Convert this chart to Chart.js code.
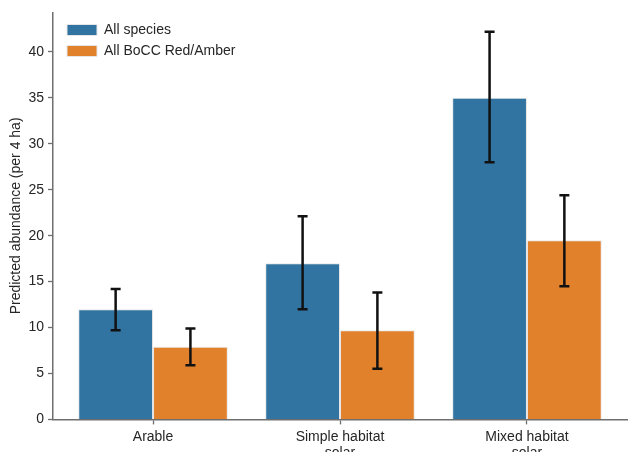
<!DOCTYPE html>
<html>
<head>
<meta charset="utf-8">
<script src="https://cdn.jsdelivr.net/npm/chart.js@4/dist/chart.umd.min.js"></script>
<style>
  html, body { margin: 0; padding: 0; background: #fff; overflow: hidden; }
  #wrap { width: 628px; height: 466px; position: relative; }
</style>
</head>
<body>
<div id="wrap"><canvas id="chart"></canvas></div>
<script>
// categories and values
var categories = [['Arable'], ['Simple habitat', 'solar'], ['Mixed habitat', 'solar']];
var seriesNames = ['All species', 'All BoCC Red/Amber'];
var allSpecies = [12.0, 17.0, 35.0];
var allSpeciesLow = [9.7, 12.0, 28.0];
var allSpeciesHigh = [14.2, 22.1, 42.2];
var redAmber = [7.9, 9.7, 19.5];
var redAmberLow = [5.9, 5.5, 14.5];
var redAmberHigh = [9.9, 13.8, 24.4];
var yTicks = [0, 5, 10, 15, 20, 25, 30, 35, 40];

var axisColor = '#6e6e6e';
var textColor = '#262626';
var font = "'Liberation Sans', Arial, sans-serif";

function points(values) {
    return values.map(function(v, i) { return { x: i, y: v }; });
}

// draws the black error bars over each bar
var errorBars = {
    id: 'errorBars',
    afterDatasetsDraw: function(chart) {
        var ctx = chart.ctx;
        var y = chart.scales.y;
        chart.data.datasets.forEach(function(ds, di) {
            var meta = chart.getDatasetMeta(di);
            meta.data.forEach(function(bar, i) {
                var top = y.getPixelForValue(ds.errHigh[i]);
                var bottom = y.getPixelForValue(ds.errLow[i]);
                ctx.save();
                ctx.strokeStyle = '#111';
                ctx.lineWidth = 2.5;
                ctx.beginPath();
                ctx.moveTo(bar.x, top);
                ctx.lineTo(bar.x, bottom);
                ctx.moveTo(bar.x - 5, top);
                ctx.lineTo(bar.x + 5, top);
                ctx.moveTo(bar.x - 5, bottom);
                ctx.lineTo(bar.x + 5, bottom);
                ctx.stroke();
                ctx.restore();
            });
        });
    }
};

// nudge the legend into the upper left of the plot, like the original
var legendShift = {
    id: 'legendShift',
    afterLayout: function(chart) {
        chart.legend.left += 7;
        chart.legend.top += 16;
    }
};

var ctx = document.getElementById('chart').getContext('2d');
var chart = new Chart(ctx, {
    type: 'bar',
    data: {
        datasets: [{
            label: seriesNames[0],
            data: points(allSpecies),
            errLow: allSpeciesLow,
            errHigh: allSpeciesHigh,
            backgroundColor: '#3274a1',
            borderColor: '#e6e6e6',
            borderWidth: 1,
            categoryPercentage: 0.8,
            barPercentage: 1
        }, {
            label: seriesNames[1],
            data: points(redAmber),
            errLow: redAmberLow,
            errHigh: redAmberHigh,
            backgroundColor: '#e1812c',
            borderColor: '#e6e6e6',
            borderWidth: 1,
            categoryPercentage: 0.8,
            barPercentage: 1
        }]
    },
    options: {
        responsive: true,
        maintainAspectRatio: false,
        animation: false,
        layout: { padding: { top: 10, right: 1, left: 0, bottom: 0 } },
        scales: {
            x: {
                type: 'linear',
                offset: false,
                min: -0.535,
                max: 2.535,
                afterBuildTicks: function(scale) {
                    scale.ticks = categories.map(function(c, i) { return { value: i }; });
                },
                grid: { display: true, offset: false, drawOnChartArea: false, color: axisColor, tickLength: 5, tickWidth: 1.3 },
                border: { color: axisColor, width: 1.5 },
                ticks: {
                    color: textColor, font: { family: font, size: 14 }, padding: 4, maxRotation: 0,
                    callback: function(value) { return categories[value]; }
                }
            },
            y: {
                min: 0,
                max: 44.3,
                afterBuildTicks: function(scale) {
                    scale.ticks = yTicks.map(function(v) { return { value: v }; });
                },
                afterFit: function(scale) { scale.width = 53; },
                grid: { display: true, drawOnChartArea: false, color: axisColor, tickLength: 5, tickWidth: 1.3 },
                border: { color: axisColor, width: 1.5 },
                ticks: { color: textColor, font: { family: font, size: 14 }, padding: 4 },
                title: { display: true, text: 'Predicted abundance (per 4 ha)', color: textColor, font: { family: font, size: 14 }, padding: { top: 8, bottom: 0 } }
            }
        },
        plugins: {
            legend: {
                position: 'chartArea',
                align: 'start',
                labels: {
                    color: textColor,
                    font: { family: font, size: 14 },
                    boxWidth: 30,
                    boxHeight: 11,
                    padding: 7
                }
            },
            tooltip: { enabled: false }
        }
    },
    plugins: [errorBars, legendShift]
});
</script>
</body>
</html>
